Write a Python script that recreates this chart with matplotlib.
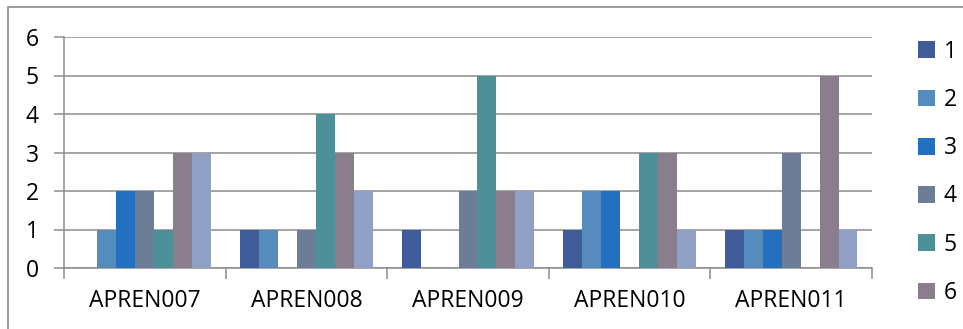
import numpy as np
import matplotlib.pyplot as plt
from matplotlib.patches import Rectangle, Patch

# 항목별 응답 수
categories = ['APREN007', 'APREN008', 'APREN009', 'APREN010', 'APREN011']
series_names = ['1', '2', '3', '4', '5', '6', '7']
s1 = [0, 1, 1, 1, 1]
s2 = [1, 1, 0, 2, 1]
s3 = [2, 0, 0, 2, 1]
s4 = [2, 1, 2, 0, 3]
s5 = [1, 4, 5, 3, 0]
s6 = [3, 3, 2, 3, 5]
s7 = [3, 2, 2, 1, 1]
series = [s1, s2, s3, s4, s5, s6, s7]
colors = ['#3F5B9A', '#558BBD', '#2470C0', '#6D7D95', '#4E9097', '#8A7E8C', '#909FC4']

plt.rcParams['font.family'] = ['Open Sans', 'DejaVu Sans']

W, H = 963, 329
fig = plt.figure(figsize=(W / 100, H / 100), dpi=100)

# 바깥 테두리
fig.patches.append(Rectangle((8 / W, -0.1), 1.1, 1 - 7 / H + 0.1, transform=fig.transFigure,
                             fill=False, edgecolor='#8C8C8C', linewidth=1.2))

ax = fig.add_axes([64 / W, (H - 268) / H, (872 - 64) / W, (268 - 37) / H])

x = np.arange(len(categories))
n = len(series)
bw = 0.82 / n
for i, (vals, c) in enumerate(zip(series, colors)):
    ax.bar(x - 0.41 + bw * (i + 0.5), vals, width=bw, color=c, label=series_names[i], zorder=3)

ax.set_xlim(-0.5, len(categories) - 0.5)
ax.set_ylim(0, 6)
ax.set_yticks(range(0, 7))
ax.yaxis.grid(True, color='#8C8C8C', linewidth=1.1, zorder=0)
ax.set_axisbelow(True)

ax.set_xticks(x)
ax.set_xticklabels(categories)
ax.set_xticks(np.arange(-0.5, len(categories)), minor=True)
ax.tick_params(axis='x', which='major', length=0, pad=15, labelsize=16.5)
ax.tick_params(axis='x', which='minor', length=8, color='#8C8C8C', width=1.1)
ax.tick_params(axis='y', length=7, color='#8C8C8C', width=1.1, pad=11, labelsize=16.5)

for side in ['top', 'right']:
    ax.spines[side].set_visible(False)
for side in ['left', 'bottom']:
    ax.spines[side].set_color('#8C8C8C')
    ax.spines[side].set_linewidth(1.1)

# 범례는 화면 안에 들어가는 1~6만
handles = [Patch(facecolor=c) for c in colors[:6]]
fig.legend(handles, series_names[:6], loc='upper left', bbox_to_anchor=(897 / W, 1 - 19 / H),
           frameon=False, fontsize=16.5, handlelength=0.75, handleheight=0.75,
           handletextpad=0.4, labelspacing=1.06)

fig.savefig('out.png', dpi=100)
